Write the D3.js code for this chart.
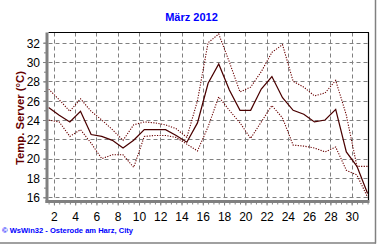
<!DOCTYPE html>
<html>
<head>
<meta charset="utf-8">
<script src="https://cdn.jsdelivr.net/npm/d3@7"></script>
<style>
  html, body { margin: 0; padding: 0; background: #fff; }
  svg { display: block; }
</style>
</head>
<body>
<div id="chart"></div>
<script>
// ---- Data ----
const days = d3.range(1, 32);
const tempMean = [25.3, 24.5, 23.8, 24.9, 22.5, 22.3, 21.9, 21.1, 21.9, 23.0,
                  23.0, 23.0, 22.4, 21.7, 23.7, 27.8, 29.8, 27.1, 25.0, 25.0,
                  27.2, 28.5, 26.3, 25.0, 24.6, 23.8, 24.0, 25.1, 20.7, 19.2, 16.4];
const tempMax  = [27.2, 26.1, 24.9, 26.2, 24.9, 24.0, 23.0, 21.9, 23.5, 23.8,
                  23.7, 23.5, 23.1, 22.2, 26.0, 32.0, 32.9, 30.0, 26.9, 27.4,
                  29.0, 31.0, 31.8, 28.0, 27.4, 26.5, 26.8, 28.1, 24.5, 19.2, 19.2];
const tempMin  = [24.0, 23.8, 22.3, 23.0, 21.6, 20.0, 20.4, 20.4, 19.1, 22.3,
                  22.4, 22.4, 22.2, 21.5, 20.8, 23.3, 26.4, 25.0, 23.7, 22.1,
                  23.8, 25.5, 24.2, 21.4, 21.3, 21.1, 20.7, 21.2, 18.8, 18.3, 16.0];
const xTicks = [2, 4, 6, 8, 10, 12, 14, 16, 18, 20, 22, 24, 26, 28, 30];
const yTicks = [16, 18, 20, 22, 24, 26, 28, 30, 32];
const titleText = "März 2012";
const yLabel = "Temp. Server  (°C)";
const footer = "© WsWin32  -  Osterode am Harz, City";

// ---- Layout ----
const W = 380, H = 245;
const plotL = 48.5, plotR = 368.5, plotT = 32.5, plotB = 200;

const x = d3.scaleLinear().domain([1.5, 31.5]).range([48.6, 367.6]);
const y = d3.scaleLinear().domain([16, 32]).range([197.3, 42.7]);

const svg = d3.select("#chart").append("svg")
  .attr("width", W).attr("height", H)
  .style("font-family", "'Liberation Sans', Arial, sans-serif");

svg.append("rect").attr("width", W).attr("height", H).attr("fill", "#fff");

// outer panel frame (right and bottom gray)
svg.append("line").attr("x1", 375.5).attr("x2", 375.5).attr("y1", 0).attr("y2", 243.5)
  .attr("stroke", "#808080").attr("stroke-width", 1.5);
svg.append("line").attr("x1", 0).attr("x2", 376).attr("y1", 243).attr("y2", 243)
  .attr("stroke", "#808080").attr("stroke-width", 1.5);

// Grid
const grid = svg.append("g").attr("stroke", "#808080").attr("stroke-width", 1)
  .attr("stroke-dasharray", "4,3").attr("fill", "none");
grid.selectAll("line.v").data(xTicks).join("line")
  .attr("x1", d => Math.round(x(d)) + 0.5).attr("x2", d => Math.round(x(d)) + 0.5)
  .attr("y1", plotT).attr("y2", plotB);
grid.selectAll("line.h").data(yTicks).join("line")
  .attr("y1", d => Math.round(y(d)) + 0.5).attr("y2", d => Math.round(y(d)) + 0.5)
  .attr("x1", plotL).attr("x2", plotR);

// Frame: top and right black
svg.append("line").attr("x1", plotL).attr("x2", plotR + 0.5).attr("y1", plotT).attr("y2", plotT)
  .attr("stroke", "#000").attr("stroke-width", 1.2);
svg.append("line").attr("x1", plotR).attr("x2", plotR).attr("y1", plotT).attr("y2", plotB)
  .attr("stroke", "#000").attr("stroke-width", 1.2);

// Axes (gray, thick)
const xAxis = d3.axisBottom(x).tickValues(xTicks).tickSize(4).tickFormat(d3.format("d"));
const xMinor = d3.axisBottom(x).tickValues(d3.range(1.5, 31.51, 0.5)).tickSize(3).tickFormat("");
const yAxis = d3.axisLeft(y).tickValues(yTicks).tickSize(4).tickFormat(d3.format("d"));
const yMinor = d3.axisLeft(y).tickValues(d3.range(16, 33, 1)).tickSize(3).tickFormat("");

function styleAxis(g) {
  g.select(".domain").remove();
  g.selectAll(".tick line").attr("stroke", "#808080");
  g.selectAll(".tick text").attr("fill", "#000").attr("font-size", 12)
    .attr("font-family", "'Liberation Sans', Arial, sans-serif");
}
svg.append("g").attr("transform", `translate(0,${plotB + 1.5})`).call(xMinor).call(styleAxis);
const gx = svg.append("g").attr("transform", `translate(0,${plotB + 1.5})`).call(xAxis).call(styleAxis);
gx.selectAll(".tick text").attr("dy", "0").attr("y", 19);
svg.append("g").attr("transform", `translate(${plotL - 1.5},0)`).call(yMinor).call(styleAxis);
const gy = svg.append("g").attr("transform", `translate(${plotL - 1.5},0)`).call(yAxis).call(styleAxis);
gy.selectAll(".tick text").attr("x", -7).attr("dy", "0.36em");

svg.append("line").attr("x1", plotL - 1.5).attr("x2", plotL - 1.5).attr("y1", plotT).attr("y2", plotB + 3)
  .attr("stroke", "#808080").attr("stroke-width", 3);
svg.append("line").attr("x1", plotL - 3).attr("x2", plotR + 1).attr("y1", plotB + 1.5).attr("y2", plotB + 1.5)
  .attr("stroke", "#808080").attr("stroke-width", 3);

// Lines
const line = d3.line().x((d, i) => x(days[i] + 0.5)).y(d => y(d));
svg.append("clipPath").attr("id", "clip").append("rect")
  .attr("x", plotL).attr("y", plotT).attr("width", plotR - plotL + 1).attr("height", plotB - plotT);
const lines = svg.append("g").attr("clip-path", "url(#clip)").attr("fill", "none");
lines.append("path").datum(tempMax).attr("d", line)
  .attr("stroke", "#6a0000").attr("stroke-width", 1.1).attr("stroke-dasharray", "1.2,1.4");
lines.append("path").datum(tempMin).attr("d", line)
  .attr("stroke", "#6a0000").attr("stroke-width", 1.1).attr("stroke-dasharray", "1.2,1.4");
lines.append("path").datum(tempMean).attr("d", line)
  .attr("stroke", "#4a0000").attr("stroke-width", 1.25);

// Title
svg.append("text").attr("x", 191.5).attr("y", 21).attr("text-anchor", "middle")
  .attr("font-size", 11).attr("font-weight", "bold").attr("fill", "#0000ff").text(titleText);

// Y label
svg.append("text").attr("transform", "translate(24,118) rotate(-90)")
  .attr("text-anchor", "middle").attr("font-size", 11).attr("font-weight", "bold")
  .attr("fill", "#660000").attr("textLength", 94).attr("lengthAdjust", "spacingAndGlyphs")
  .text(yLabel);

// Footer
svg.append("text").attr("x", 2).attr("y", 233).attr("font-size", 7).attr("font-weight", "bold")
  .attr("fill", "#0000ff").attr("textLength", 131).attr("lengthAdjust", "spacingAndGlyphs").text(footer);
</script>
</body>
</html>
